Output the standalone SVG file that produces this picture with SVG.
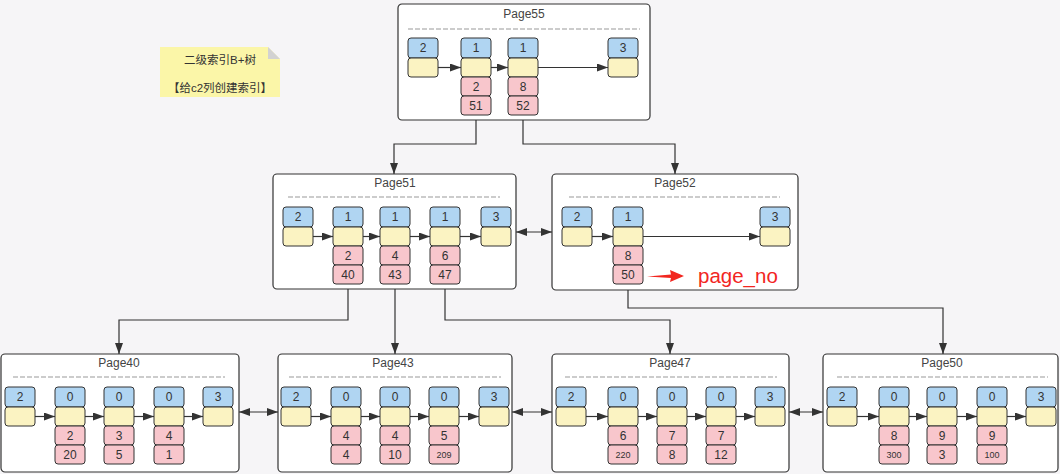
<svg xmlns="http://www.w3.org/2000/svg" width="1060" height="474" viewBox="0 0 1060 474">
<defs>
<style>
.pg{fill:#ffffff;stroke:#333;stroke-width:1.2}
.dash{stroke:#999;stroke-width:1;stroke-dasharray:5 2;fill:none}
.ttl{font-family:"Liberation Sans",Arial,sans-serif;font-size:12px;fill:#444;text-anchor:middle}
.b{fill:#b0d5f2;stroke:#333;stroke-width:1}
.y{fill:#fbf3c2;stroke:#333;stroke-width:1}
.p{fill:#f8c6cc;stroke:#333;stroke-width:1}
.t{font-family:"Liberation Sans",Arial,sans-serif;font-size:12px;fill:#333;text-anchor:middle}
.ts{font-family:"Liberation Sans",Arial,sans-serif;font-size:9px;fill:#333;text-anchor:middle}
.ln{stroke:#333;stroke-width:1.2;fill:none}
.note{fill:#fbf6a8}
.nt{font-family:"Liberation Sans","Noto Sans CJK SC",sans-serif;font-size:11.5px;fill:#333;text-anchor:middle}
</style>
<marker id="ah" markerUnits="userSpaceOnUse" markerWidth="11" markerHeight="8" refX="11" refY="4" orient="auto-start-reverse">
<path d="M0,0 L11,4 L0,8 Z" fill="#333"/>
</marker>
</defs>
<rect x="0" y="0" width="1060" height="474" fill="#f6f5f7"/>

<g id="note">
<path class="note" d="M160,47 H268 L280,59 V97 H160 Z"/>
<path d="M268,47 V59 H280 Z" fill="#d2d2d2"/>
<text class="nt" x="220" y="64">二级索引B+树</text>
<text class="nt" x="220" y="92">【给c2列创建索引】</text>
</g>

<g id="connectors">
<path class="ln" d="M476,115 V144 H394 V174" marker-end="url(#ah)"/>
<path class="ln" d="M523,115 V144 H675 V174" marker-end="url(#ah)"/>
<path class="ln" d="M348,284 V320 H119 V354" marker-end="url(#ah)"/>
<path class="ln" d="M395,284 V354" marker-end="url(#ah)"/>
<path class="ln" d="M445,284 V320 H670 V354" marker-end="url(#ah)"/>
<path class="ln" d="M628,284 V308 H943 V354" marker-end="url(#ah)"/>
<path class="ln" d="M516,232 H552" marker-start="url(#ah)" marker-end="url(#ah)"/>
<path class="ln" d="M239,412 H278" marker-start="url(#ah)" marker-end="url(#ah)"/>
<path class="ln" d="M512,412 H552" marker-start="url(#ah)" marker-end="url(#ah)"/>
<path class="ln" d="M789,412 H823" marker-start="url(#ah)" marker-end="url(#ah)"/>
</g>

<g id="page55">
<rect class="pg" x="398" y="4" width="252" height="116" rx="4"/>
<text class="ttl" x="524" y="18">Page55</text>
<line class="dash" x1="408" y1="29" x2="640" y2="29"/>
<rect class="b" x="408" y="38" width="30" height="20" rx="3"/><text class="t" x="423" y="52">2</text>
<rect class="y" x="408" y="58" width="30" height="19" rx="3"/>
<rect class="b" x="461" y="38" width="30" height="20" rx="3"/><text class="t" x="476" y="52">1</text>
<rect class="y" x="461" y="58" width="30" height="19" rx="3"/>
<rect class="p" x="461" y="77" width="30" height="19" rx="3"/><text class="t" x="476" y="91">2</text>
<rect class="p" x="461" y="96" width="30" height="19" rx="3"/><text class="t" x="476" y="110">51</text>
<rect class="b" x="508" y="38" width="30" height="20" rx="3"/><text class="t" x="523" y="52">1</text>
<rect class="y" x="508" y="58" width="30" height="19" rx="3"/>
<rect class="p" x="508" y="77" width="30" height="19" rx="3"/><text class="t" x="523" y="91">8</text>
<rect class="p" x="508" y="96" width="30" height="19" rx="3"/><text class="t" x="523" y="110">52</text>
<rect class="b" x="608" y="38" width="30" height="20" rx="3"/><text class="t" x="623" y="52">3</text>
<rect class="y" x="608" y="58" width="30" height="19" rx="3"/>
<path class="ln" d="M438,67.5 H461" marker-end="url(#ah)"/>
<path class="ln" d="M491,67.5 H508" marker-end="url(#ah)"/>
<path class="ln" d="M538,67.5 H608" marker-end="url(#ah)"/>
</g>

<g id="page51">
<rect class="pg" x="273" y="174" width="243" height="115" rx="4"/>
<text class="ttl" x="395" y="187">Page51</text>
<line class="dash" x1="288" y1="197" x2="500" y2="197"/>
<rect class="b" x="283" y="207" width="30" height="20" rx="3"/><text class="t" x="298" y="221">2</text>
<rect class="y" x="283" y="227" width="30" height="19" rx="3"/>
<rect class="b" x="333" y="207" width="30" height="20" rx="3"/><text class="t" x="348" y="221">1</text>
<rect class="y" x="333" y="227" width="30" height="19" rx="3"/>
<rect class="p" x="333" y="246" width="30" height="19" rx="3"/><text class="t" x="348" y="260">2</text>
<rect class="p" x="333" y="265" width="30" height="19" rx="3"/><text class="t" x="348" y="279">40</text>
<rect class="b" x="380" y="207" width="30" height="20" rx="3"/><text class="t" x="395" y="221">1</text>
<rect class="y" x="380" y="227" width="30" height="19" rx="3"/>
<rect class="p" x="380" y="246" width="30" height="19" rx="3"/><text class="t" x="395" y="260">4</text>
<rect class="p" x="380" y="265" width="30" height="19" rx="3"/><text class="t" x="395" y="279">43</text>
<rect class="b" x="430" y="207" width="30" height="20" rx="3"/><text class="t" x="445" y="221">1</text>
<rect class="y" x="430" y="227" width="30" height="19" rx="3"/>
<rect class="p" x="430" y="246" width="30" height="19" rx="3"/><text class="t" x="445" y="260">6</text>
<rect class="p" x="430" y="265" width="30" height="19" rx="3"/><text class="t" x="445" y="279">47</text>
<rect class="b" x="481" y="207" width="30" height="20" rx="3"/><text class="t" x="496" y="221">3</text>
<rect class="y" x="481" y="227" width="30" height="19" rx="3"/>
<path class="ln" d="M313,236.5 H333" marker-end="url(#ah)"/>
<path class="ln" d="M363,236.5 H380" marker-end="url(#ah)"/>
<path class="ln" d="M410,236.5 H430" marker-end="url(#ah)"/>
<path class="ln" d="M460,236.5 H481" marker-end="url(#ah)"/>
</g>

<g id="page52">
<rect class="pg" x="552" y="174" width="246" height="116" rx="4"/>
<text class="ttl" x="675" y="187">Page52</text>
<line class="dash" x1="569" y1="197" x2="780" y2="197"/>
<rect class="b" x="562" y="207" width="30" height="20" rx="3"/><text class="t" x="577" y="221">2</text>
<rect class="y" x="562" y="227" width="30" height="19" rx="3"/>
<rect class="b" x="613" y="207" width="30" height="20" rx="3"/><text class="t" x="628" y="221">1</text>
<rect class="y" x="613" y="227" width="30" height="19" rx="3"/>
<rect class="p" x="613" y="246" width="30" height="19" rx="3"/><text class="t" x="628" y="260">8</text>
<rect class="p" x="613" y="265" width="30" height="19" rx="3"/><text class="t" x="628" y="279">50</text>
<rect class="b" x="760" y="207" width="30" height="20" rx="3"/><text class="t" x="775" y="221">3</text>
<rect class="y" x="760" y="227" width="30" height="19" rx="3"/>
<path class="ln" d="M592,236.5 H613" marker-end="url(#ah)"/>
<path class="ln" d="M643,236.5 H760" marker-end="url(#ah)"/>
<path d="M647,276.5 L671,274.5 L670,270 L684,276 L670,282 L671,278 Z" fill="#f2261f"/>
<text x="698" y="283" font-family="Liberation Sans,Arial,sans-serif" font-size="20.5" fill="#f2261f">page_no</text>
</g>

<g id="page40">
<rect class="pg" x="1" y="354" width="238" height="118" rx="4"/>
<text class="ttl" x="119" y="367">Page40</text>
<line class="dash" x1="13" y1="377" x2="225" y2="377"/>
<rect class="b" x="5" y="387" width="30" height="20" rx="3"/><text class="t" x="20" y="401">2</text>
<rect class="y" x="5" y="407" width="30" height="19" rx="3"/>
<rect class="b" x="55" y="387" width="30" height="20" rx="3"/><text class="t" x="70" y="401">0</text>
<rect class="y" x="55" y="407" width="30" height="19" rx="3"/>
<rect class="p" x="55" y="426" width="30" height="19" rx="3"/><text class="t" x="70" y="440">2</text>
<rect class="p" x="55" y="445" width="30" height="19" rx="3"/><text class="t" x="70" y="459">20</text>
<rect class="b" x="104" y="387" width="30" height="20" rx="3"/><text class="t" x="119" y="401">0</text>
<rect class="y" x="104" y="407" width="30" height="19" rx="3"/>
<rect class="p" x="104" y="426" width="30" height="19" rx="3"/><text class="t" x="119" y="440">3</text>
<rect class="p" x="104" y="445" width="30" height="19" rx="3"/><text class="t" x="119" y="459">5</text>
<rect class="b" x="154" y="387" width="30" height="20" rx="3"/><text class="t" x="169" y="401">0</text>
<rect class="y" x="154" y="407" width="30" height="19" rx="3"/>
<rect class="p" x="154" y="426" width="30" height="19" rx="3"/><text class="t" x="169" y="440">4</text>
<rect class="p" x="154" y="445" width="30" height="19" rx="3"/><text class="t" x="169" y="459">1</text>
<rect class="b" x="203" y="387" width="30" height="20" rx="3"/><text class="t" x="218" y="401">3</text>
<rect class="y" x="203" y="407" width="30" height="19" rx="3"/>
<path class="ln" d="M35,416.5 H55" marker-end="url(#ah)"/>
<path class="ln" d="M85,416.5 H104" marker-end="url(#ah)"/>
<path class="ln" d="M134,416.5 H154" marker-end="url(#ah)"/>
<path class="ln" d="M184,416.5 H203" marker-end="url(#ah)"/>
</g>

<g id="page43">
<rect class="pg" x="278" y="354" width="234" height="118" rx="4"/>
<text class="ttl" x="393" y="367">Page43</text>
<line class="dash" x1="289" y1="377" x2="501" y2="377"/>
<rect class="b" x="281" y="387" width="30" height="20" rx="3"/><text class="t" x="296" y="401">2</text>
<rect class="y" x="281" y="407" width="30" height="19" rx="3"/>
<rect class="b" x="331" y="387" width="30" height="20" rx="3"/><text class="t" x="346" y="401">0</text>
<rect class="y" x="331" y="407" width="30" height="19" rx="3"/>
<rect class="p" x="331" y="426" width="30" height="19" rx="3"/><text class="t" x="346" y="440">4</text>
<rect class="p" x="331" y="445" width="30" height="19" rx="3"/><text class="t" x="346" y="459">4</text>
<rect class="b" x="380" y="387" width="30" height="20" rx="3"/><text class="t" x="395" y="401">0</text>
<rect class="y" x="380" y="407" width="30" height="19" rx="3"/>
<rect class="p" x="380" y="426" width="30" height="19" rx="3"/><text class="t" x="395" y="440">4</text>
<rect class="p" x="380" y="445" width="30" height="19" rx="3"/><text class="t" x="395" y="459">10</text>
<rect class="b" x="429" y="387" width="30" height="20" rx="3"/><text class="t" x="444" y="401">0</text>
<rect class="y" x="429" y="407" width="30" height="19" rx="3"/>
<rect class="p" x="429" y="426" width="30" height="19" rx="3"/><text class="t" x="444" y="440">5</text>
<rect class="p" x="429" y="445" width="30" height="19" rx="3"/><text class="ts" x="444" y="458">209</text>
<rect class="b" x="479" y="387" width="30" height="20" rx="3"/><text class="t" x="494" y="401">3</text>
<rect class="y" x="479" y="407" width="30" height="19" rx="3"/>
<path class="ln" d="M311,416.5 H331" marker-end="url(#ah)"/>
<path class="ln" d="M361,416.5 H380" marker-end="url(#ah)"/>
<path class="ln" d="M410,416.5 H429" marker-end="url(#ah)"/>
<path class="ln" d="M459,416.5 H479" marker-end="url(#ah)"/>
</g>

<g id="page47">
<rect class="pg" x="552" y="354" width="237" height="118" rx="4"/>
<text class="ttl" x="670" y="367">Page47</text>
<line class="dash" x1="565" y1="377" x2="777" y2="377"/>
<rect class="b" x="556" y="387" width="30" height="20" rx="3"/><text class="t" x="571" y="401">2</text>
<rect class="y" x="556" y="407" width="30" height="19" rx="3"/>
<rect class="b" x="608" y="387" width="30" height="20" rx="3"/><text class="t" x="623" y="401">0</text>
<rect class="y" x="608" y="407" width="30" height="19" rx="3"/>
<rect class="p" x="608" y="426" width="30" height="19" rx="3"/><text class="t" x="623" y="440">6</text>
<rect class="p" x="608" y="445" width="30" height="19" rx="3"/><text class="ts" x="623" y="458">220</text>
<rect class="b" x="657" y="387" width="30" height="20" rx="3"/><text class="t" x="672" y="401">0</text>
<rect class="y" x="657" y="407" width="30" height="19" rx="3"/>
<rect class="p" x="657" y="426" width="30" height="19" rx="3"/><text class="t" x="672" y="440">7</text>
<rect class="p" x="657" y="445" width="30" height="19" rx="3"/><text class="t" x="672" y="459">8</text>
<rect class="b" x="706" y="387" width="30" height="20" rx="3"/><text class="t" x="721" y="401">0</text>
<rect class="y" x="706" y="407" width="30" height="19" rx="3"/>
<rect class="p" x="706" y="426" width="30" height="19" rx="3"/><text class="t" x="721" y="440">7</text>
<rect class="p" x="706" y="445" width="30" height="19" rx="3"/><text class="t" x="721" y="459">12</text>
<rect class="b" x="755" y="387" width="30" height="20" rx="3"/><text class="t" x="770" y="401">3</text>
<rect class="y" x="755" y="407" width="30" height="19" rx="3"/>
<path class="ln" d="M586,416.5 H608" marker-end="url(#ah)"/>
<path class="ln" d="M638,416.5 H657" marker-end="url(#ah)"/>
<path class="ln" d="M687,416.5 H706" marker-end="url(#ah)"/>
<path class="ln" d="M736,416.5 H755" marker-end="url(#ah)"/>
</g>

<g id="page50">
<rect class="pg" x="823" y="354" width="235" height="118" rx="4"/>
<text class="ttl" x="942" y="367">Page50</text>
<line class="dash" x1="837" y1="377" x2="1048" y2="377"/>
<rect class="b" x="827" y="387" width="30" height="20" rx="3"/><text class="t" x="842" y="401">2</text>
<rect class="y" x="827" y="407" width="30" height="19" rx="3"/>
<rect class="b" x="879" y="387" width="30" height="20" rx="3"/><text class="t" x="894" y="401">0</text>
<rect class="y" x="879" y="407" width="30" height="19" rx="3"/>
<rect class="p" x="879" y="426" width="30" height="19" rx="3"/><text class="t" x="894" y="440">8</text>
<rect class="p" x="879" y="445" width="30" height="19" rx="3"/><text class="ts" x="894" y="458">300</text>
<rect class="b" x="927" y="387" width="30" height="20" rx="3"/><text class="t" x="942" y="401">0</text>
<rect class="y" x="927" y="407" width="30" height="19" rx="3"/>
<rect class="p" x="927" y="426" width="30" height="19" rx="3"/><text class="t" x="942" y="440">9</text>
<rect class="p" x="927" y="445" width="30" height="19" rx="3"/><text class="t" x="942" y="459">3</text>
<rect class="b" x="977" y="387" width="30" height="20" rx="3"/><text class="t" x="992" y="401">0</text>
<rect class="y" x="977" y="407" width="30" height="19" rx="3"/>
<rect class="p" x="977" y="426" width="30" height="19" rx="3"/><text class="t" x="992" y="440">9</text>
<rect class="p" x="977" y="445" width="30" height="19" rx="3"/><text class="ts" x="992" y="458">100</text>
<rect class="b" x="1026" y="387" width="30" height="20" rx="3"/><text class="t" x="1041" y="401">3</text>
<rect class="y" x="1026" y="407" width="30" height="19" rx="3"/>
<path class="ln" d="M857,416.5 H879" marker-end="url(#ah)"/>
<path class="ln" d="M909,416.5 H927" marker-end="url(#ah)"/>
<path class="ln" d="M957,416.5 H977" marker-end="url(#ah)"/>
<path class="ln" d="M1007,416.5 H1026" marker-end="url(#ah)"/>
</g>
</svg>
